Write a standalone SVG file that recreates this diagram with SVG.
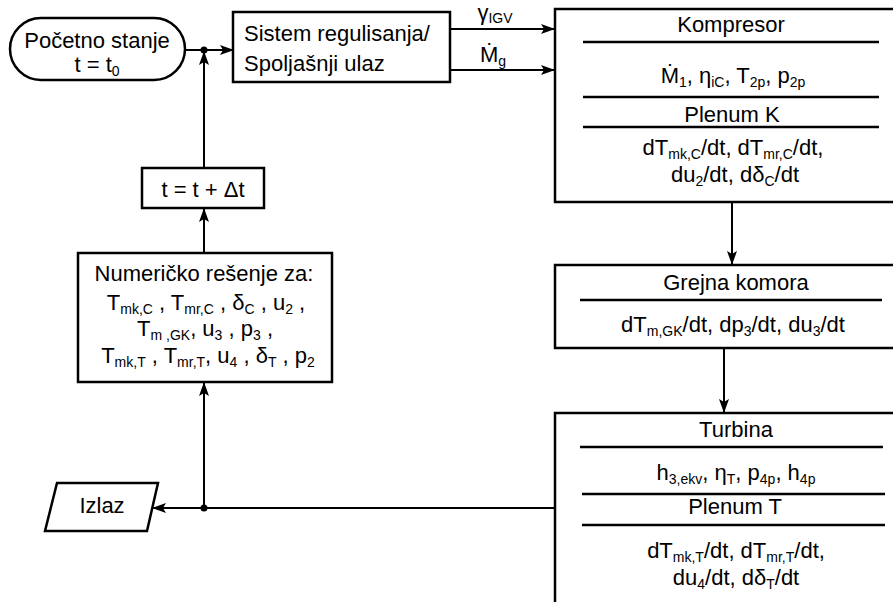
<svg xmlns="http://www.w3.org/2000/svg" width="893" height="602" viewBox="0 0 893 602">
<defs>
<style>
text{font-family:"Liberation Sans",Arial,sans-serif;font-size:22px;fill:#000;text-anchor:middle}
.l{text-anchor:start}
.s{font-size:14px;baseline-shift:-4px}
.box{fill:#fff;stroke:#000;stroke-width:2.5}
.sep{stroke:#000;stroke-width:2.5;fill:none}
.c{stroke:#000;stroke-width:2;fill:none}
</style>
<marker id="ah" viewBox="0 0 14 10" refX="13" refY="5" markerWidth="14" markerHeight="10" markerUnits="userSpaceOnUse" orient="auto">
<path d="M0,0 L14,5 L0,10 L3,5 z" fill="#000"/>
</marker>
</defs>
<rect width="893" height="602" fill="#fff"/>
<g id="connectors">
<path class="c" d="M185,50 H233" marker-end="url(#ah)"/>
<path class="c" d="M204,168 V52" marker-end="url(#ah)"/>
<path class="c" d="M204,253 V209" marker-end="url(#ah)"/>
<path class="c" d="M204,508 V383" marker-end="url(#ah)"/>
<path class="c" d="M555,508 H153" marker-end="url(#ah)"/>
<path class="c" d="M450,29 H554" marker-end="url(#ah)"/>
<path class="c" d="M450,70 H554" marker-end="url(#ah)"/>
<path class="c" d="M732,202 V264" marker-end="url(#ah)"/>
<path class="c" d="M724,348 V412" marker-end="url(#ah)"/>
<circle cx="204" cy="50" r="3.5" fill="#000"/>
<circle cx="204" cy="508" r="3.5" fill="#000"/>
<text x="495" y="20">γ<tspan font-size="14" dy="3">IGV</tspan></text>
<text x="493" y="62">Ṁ<tspan class="s">g</tspan></text>
</g>
<g id="start">
<rect class="box" x="10" y="18" width="175" height="62" rx="31"/>
<text x="97" y="48">Početno stanje</text>
<text x="97" y="72">t = t<tspan class="s">0</tspan></text>
</g>
<g id="sistem">
<rect class="box" x="233" y="12" width="217" height="70"/>
<text class="l" x="244" y="41">Sistem regulisanja/</text>
<text class="l" x="244" y="71">Spoljašnji ulaz</text>
</g>
<g id="kompresor">
<rect class="box" x="555" y="9" width="345" height="193"/>
<path class="sep" d="M583,42 H879 M583,97 H879 M583,127 H879"/>
<text x="731" y="32">Kompresor</text>
<text x="733" y="83">Ṁ<tspan class="s">1</tspan>, η<tspan class="s">iC</tspan>, T<tspan class="s">2p</tspan>, p<tspan class="s">2p</tspan></text>
<text x="732" y="122">Plenum K</text>
<text x="733" y="155">dT<tspan class="s">mk,C</tspan>/dt, dT<tspan class="s">mr,C</tspan>/dt,</text>
<text x="735" y="182">du<tspan class="s">2</tspan>/dt, dδ<tspan class="s">C</tspan>/dt</text>
</g>
<g id="grejna">
<rect class="box" x="555" y="265" width="345" height="83"/>
<path class="sep" d="M580,300 H882"/>
<text x="736" y="290">Grejna komora</text>
<text x="733" y="332">dT<tspan class="s">m,GK</tspan>/dt, dp<tspan class="s">3</tspan>/dt, du<tspan class="s">3</tspan>/dt</text>
</g>
<g id="turbina">
<rect class="box" x="555" y="413" width="345" height="200"/>
<path class="sep" d="M580,447 H883 M582,494 H885 M582,525 H885"/>
<text x="736" y="437">Turbina</text>
<text x="736" y="480">h<tspan class="s">3,ekv</tspan>, η<tspan class="s">T</tspan>, p<tspan class="s">4p</tspan>, h<tspan class="s">4p</tspan></text>
<text x="735" y="514">Plenum T</text>
<text x="736" y="558">dT<tspan class="s">mk,T</tspan>/dt, dT<tspan class="s">mr,T</tspan>/dt,</text>
<text x="736" y="585">du<tspan class="s">4</tspan>/dt, dδ<tspan class="s">T</tspan>/dt</text>
</g>
<g id="korak">
<rect class="box" x="142" y="168" width="122" height="40"/>
<text x="203" y="197">t = t + Δt</text>
</g>
<g id="numericko">
<rect class="box" x="78" y="253" width="254" height="129"/>
<text x="204" y="281">Numeričko rešenje za:</text>
<text x="206" y="310">T<tspan class="s">mk,C</tspan> , T<tspan class="s">mr,C</tspan> , δ<tspan class="s">C</tspan> , u<tspan class="s">2</tspan> ,</text>
<text x="205" y="336">T<tspan class="s">m ,GK</tspan>, u<tspan class="s">3</tspan> , p<tspan class="s">3</tspan> ,</text>
<text x="208" y="363">T<tspan class="s">mk,T</tspan> , T<tspan class="s">mr,T</tspan>, u<tspan class="s">4</tspan> , δ<tspan class="s">T</tspan> , p<tspan class="s">2</tspan></text>
</g>
<g id="izlaz">
<polygon class="box" points="57,483 158,483 147,531 45,531"/>
<text x="102" y="513">Izlaz</text>
</g>
</svg>
